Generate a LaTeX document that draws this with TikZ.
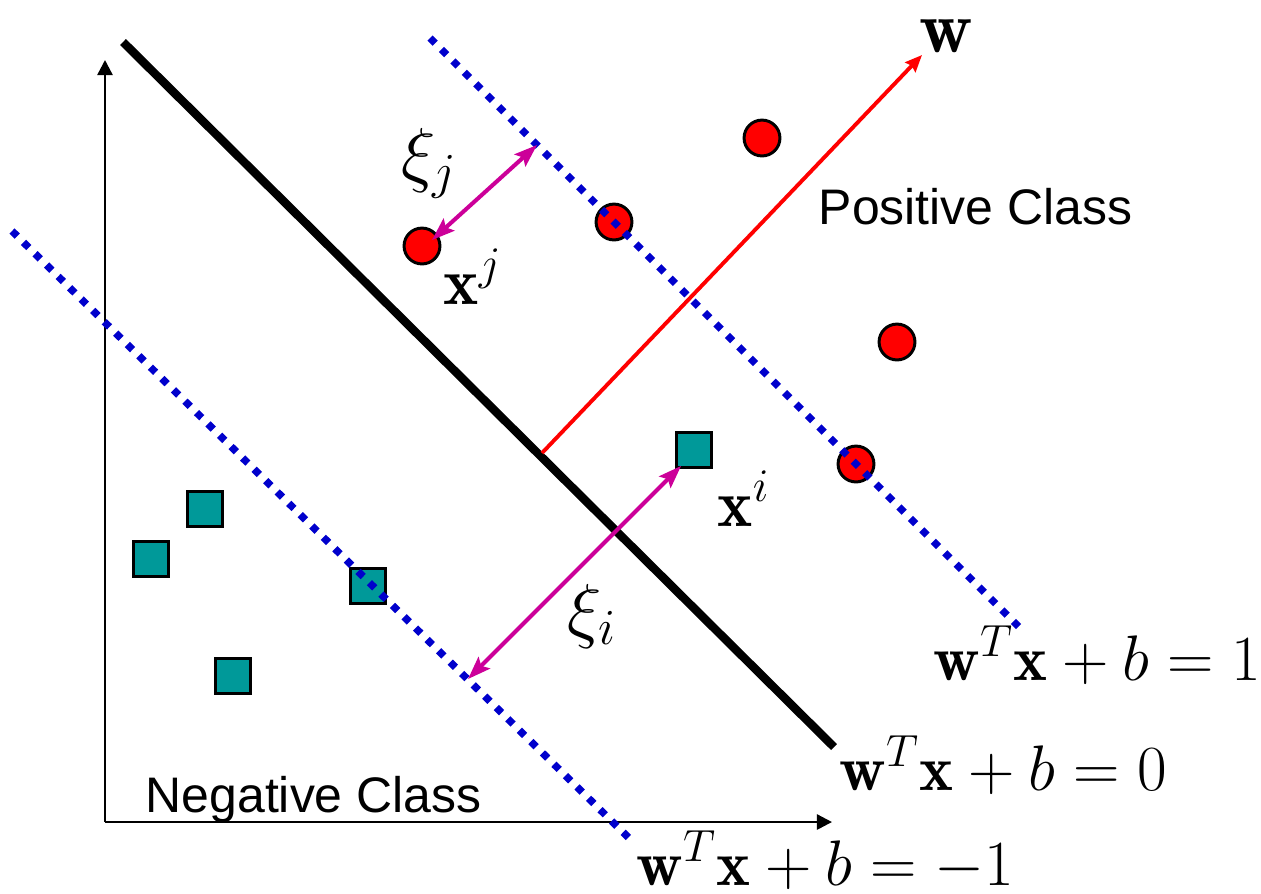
\RequirePackage{fix-cm}
\documentclass[tikz,border=0pt]{standalone}
\usepackage{amsmath,amssymb}
\usepackage{fontspec}
\setsansfont{Liberation Sans}
\usepackage{xcolor}
\usepackage{tikz}
\usetikzlibrary{arrows.meta,calc}
\definecolor{sqteal}{RGB}{0,153,153}
\definecolor{margblue}{RGB}{0,0,204}
\definecolor{slackmag}{RGB}{204,0,153}
\tikzset{
posdot/.style={
circle,
draw=black,
fill=red,
line width=0.85pt,
inner sep=0pt,
minimum size=10.2pt
},
negsq/.style={
rectangle,
draw=black,
fill=sqteal,
line width=0.95pt,
inner sep=0pt,
minimum size=9.8pt
},
axisarrow/.style={
-{Triangle[length=4.3pt,width=4.3pt]},
line width=0.7pt
},
sepline/.style={
line width=2.4pt
},
marginline/.style={
margblue,
line width=2.1pt,
dash pattern=on 2.1pt off 2.5pt
},
normalvec/.style={
red,
-{Stealth[length=4.8pt,width=4pt,inset=0.6pt]},
line width=1.1pt
},
slack/.style={
slackmag,
{Stealth[length=6.5pt,width=4.6pt,inset=1.2pt]}-{Stealth[length=6.5pt,width=4.6pt,inset=1.2pt]},
line width=1.15pt
},
eqlabel/.style={
inner sep=0pt,
anchor=base west,
font=\fontsize{18.3}{21}\selectfont
},
mathlbl/.style={
inner sep=0pt,
anchor=base west,
font=\fontsize{19}{22}\selectfont
},
classlbl/.style={
inner sep=0pt,
anchor=base west,
font=\sffamily\fontsize{14.2}{17}\selectfont
}
}

\begin{document}
\begin{tikzpicture}[x=0.01cm,y=-0.01cm]
\useasboundingbox (0,0) rectangle (1261,893);

% axes
\coordinate (o) at (105,822);
\coordinate (ytop) at (105,60);
\coordinate (xend) at (832,822);
\draw[axisarrow](o)--(ytop);
\draw[axisarrow](o)--(xend);

% samples
\foreach \n/\x/\y in {p1/762/138,p2/614/222,xj/422/246,p3/897/342,p4/856/464}
\node[posdot](\n) at (\x,\y){};
\foreach \n/\x/\y in {xi/694/450,n1/205/509,n2/151/559,n3/368/586,n4/233/676}
\node[negsq](\n) at (\x,\y){};

% hyperplanes
\coordinate (h0a) at (123,42);
\coordinate (h0b) at (834,747);
\coordinate (hpa) at (430,38);
\coordinate (hpb) at (1021,629);
\coordinate (hna) at (12,231);
\coordinate (hnb) at (634,843);
\draw[sepline](h0a)--(h0b);
\draw[marginline](hpa)--(hpb);
\draw[marginline](hna)--(hnb);

% normal vector
\coordinate (wbase) at (542,453);
\coordinate (wtip) at (922,55);
\draw[normalvec](wbase)--(wtip);

% slacks
\coordinate (sj) at (537,145);
\coordinate (xjtip) at (432,240);
\coordinate (si) at (468,679);
\draw[slack](sj)--(xjtip);
\draw[slack](si)--([shift={(6,-3)}]xi.south west);

% labels
\node[mathlbl,font=\fontsize{21}{24}\selectfont](wlbl) at (919,52){$\mathbf{w}$};
\node[mathlbl](xjlbl) at (443,304){$\mathbf{x}^j$};
\node[mathlbl](xilbl) at (717,526){$\mathbf{x}^i$};
\node[mathlbl,font=\fontsize{20.5}{23}\selectfont](xijlbl) at (401,178){$\xi_j$};
\node[mathlbl,font=\fontsize{20.5}{23}\selectfont](xiilbl) at (567,634){$\xi_i$};
\node[classlbl](pos) at (818,224){Positive Class};
\node[classlbl](neg) at (145,812){Negative Class};
\node[eqlabel](eqp) at (933,680){$\mathbf{w}^T\mathbf{x}+b=1$};
\node[eqlabel](eqz) at (839,790){$\mathbf{w}^T\mathbf{x}+b=0$};
\node[eqlabel](eqn) at (636,885){$\mathbf{w}^T\mathbf{x}+b=-1$};
\end{tikzpicture}
\end{document}
